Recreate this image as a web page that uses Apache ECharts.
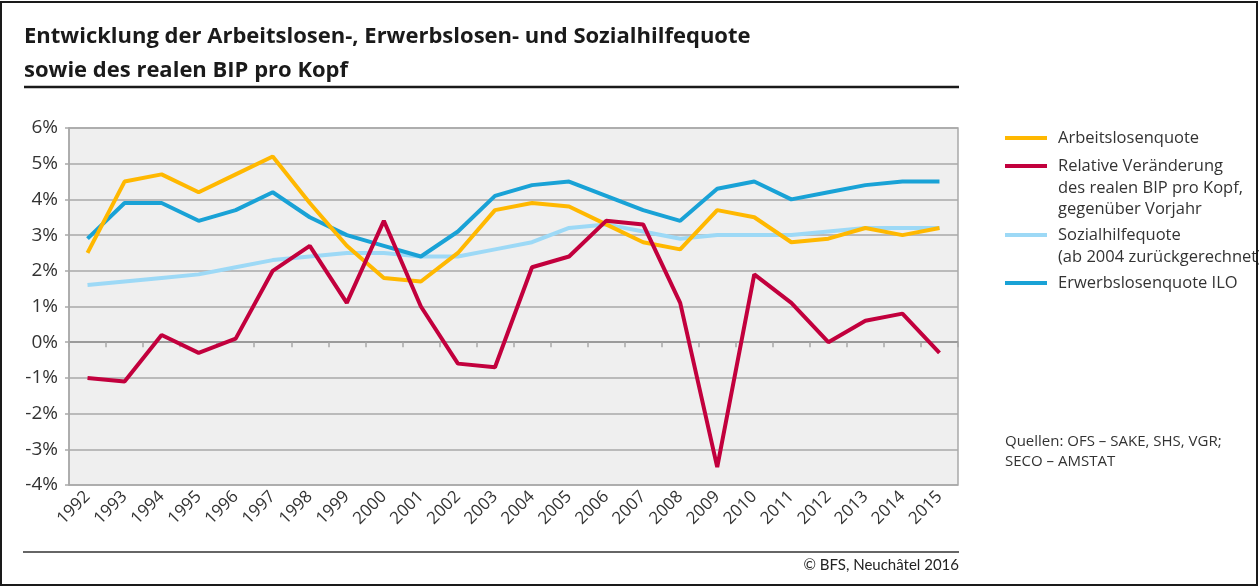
<!DOCTYPE html>
<html>
<head>
<meta charset="utf-8">
<script src="https://cdn.jsdelivr.net/npm/echarts@6/dist/echarts.min.js"></script>
<style>
html,body{margin:0;padding:0;background:#fff;}
#chart{width:1259px;height:587px;}
</style>
</head>
<body>
<div id="chart"></div>
<script>
const years = ['1992','1993','1994','1995','1996','1997','1998','1999','2000','2001','2002','2003','2004','2005','2006','2007','2008','2009','2010','2011','2012','2013','2014','2015'];
const arbeitslosenquote = [2.5,4.5,4.7,4.2,4.7,5.2,3.9,2.7,1.8,1.7,2.5,3.7,3.9,3.8,3.3,2.8,2.6,3.7,3.5,2.8,2.9,3.2,3.0,3.2];
const bipVeraenderung = [-1.0,-1.1,0.2,-0.3,0.1,2.0,2.7,1.1,3.4,1.0,-0.6,-0.7,2.1,2.4,3.4,3.3,1.1,-3.5,1.9,1.1,0.0,0.6,0.8,-0.3];
const sozialhilfequote = [1.6,1.7,1.8,1.9,2.1,2.3,2.4,2.5,2.5,2.4,2.4,2.6,2.8,3.2,3.3,3.1,2.9,3.0,3.0,3.0,3.1,3.2,3.2,3.2];
const erwerbslosenquote = [2.9,3.9,3.9,3.4,3.7,4.2,3.5,3.0,2.7,2.4,3.1,4.1,4.4,4.5,4.1,3.7,3.4,4.3,4.5,4.0,4.2,4.4,4.5,4.5];
const yTicks = ['-4%','-3%','-2%','-1%','0%','1%','2%','3%','4%','5%','6%'];

const titleText = 'Entwicklung der Arbeitslosen-, Erwerbslosen- und Sozialhilfequote\nsowie des realen BIP pro Kopf';
const nameALQ = 'Arbeitslosenquote';
const nameBIP = 'Relative Veränderung\ndes realen BIP pro Kopf,\ngegenüber Vorjahr';
const nameSHQ = 'Sozialhilfequote\n(ab 2004 zurückgerechnet)';
const nameELQ = 'Erwerbslosenquote ILO';
const sourceText = 'Quellen: OFS – SAKE, SHS, VGR;\nSECO – AMSTAT';
const footerText = '© BFS, Neuchâtel 2016';

const cYellow = '#FFB800';
const cRed = '#C2003D';
const cLight = '#9DD9F6';
const cBlue = '#19A2D6';
const FONT = '"Open Sans", Lato, sans-serif';
const FONT2 = 'Lato, "Open Sans", sans-serif';

const chart = echarts.init(document.getElementById('chart'));

function legendFor(name, color, centerY) {
  return {
    data: [name],
    orient: 'vertical',
    left: 1005,
    top: centerY - 10,
    padding: 0,
    itemWidth: 42,
    itemHeight: 4,
    itemGap: 0,
    icon: 'rect',
    selectedMode: false,
    formatter: function (n) { return n.split('\n')[0]; },
    textStyle: { fontFamily: FONT, fontSize: 16.5, color: '#333', lineHeight: 20, padding: [0, 0, 0, 6] }
  };
}

function extraLines(name, startY) {
  const parts = name.split('\n').slice(1);
  return parts.map(function (t, i) {
    return {
      type: 'text', left: 1058, top: startY + i * 21.5 - 10, silent: true,
      style: { text: t, fontFamily: FONT, fontSize: 16.5, fill: '#333', lineHeight: 20 }
    };
  });
}

const splitColors = yTicks.map(function (t) { return t === '0%' ? '#4a4a4a' : '#a9a9a9'; });

const option = {
  animation: false,
  backgroundColor: '#ffffff',
  title: {
    text: titleText,
    left: 24, top: 20, padding: 0,
    textStyle: { fontFamily: FONT, fontWeight: 'bold', fontSize: 22, color: '#1a1a1a', lineHeight: 34 }
  },
  legend: [
    legendFor(nameALQ, cYellow, 138),
    legendFor(nameBIP, cRed, 166),
    legendFor(nameSHQ, cLight, 235),
    legendFor(nameELQ, cBlue, 283)
  ],
  grid: {
    left: 69, right: 301, top: 128, bottom: 102,
    show: true, backgroundColor: '#efefef', borderColor: '#a9a9a9', borderWidth: 1.5,
    outerBoundsMode: 'none'
  },
  xAxis: {
    type: 'category',
    data: years,
    boundaryGap: true,
    axisLine: { show: true, lineStyle: { color: '#a9a9a9', width: 1.5 } },
    axisTick: { show: true, length: 5, alignWithLabel: false, lineStyle: { color: '#a9a9a9', width: 1.5 } },
    axisLabel: { interval: 0, rotate: 45, margin: 9, fontFamily: FONT, fontSize: 17, color: '#333' },
    splitLine: { show: false }
  },
  yAxis: {
    type: 'value',
    min: -4, max: 6, interval: 1,
    axisLine: { show: true, lineStyle: { color: '#a9a9a9', width: 1.5 } },
    axisTick: { show: true, length: 4, lineStyle: { color: '#a9a9a9', width: 1.5 } },
    axisLabel: {
      margin: 11, fontFamily: FONT, fontSize: 19, color: '#333',
      formatter: function (v) { return yTicks[v + 4]; }
    },
    splitLine: { show: true, lineStyle: { color: splitColors, width: 1.5 } }
  },
  series: [
    { name: nameSHQ, type: 'line', data: sozialhilfequote, symbol: 'none', z: 2,
      lineStyle: { color: cLight, width: 4 }, itemStyle: { color: cLight } },
    { name: nameELQ, type: 'line', data: erwerbslosenquote, symbol: 'none', z: 3,
      lineStyle: { color: cBlue, width: 4 }, itemStyle: { color: cBlue } },
    { name: nameALQ, type: 'line', data: arbeitslosenquote, symbol: 'none', z: 4,
      lineStyle: { color: cYellow, width: 4 }, itemStyle: { color: cYellow } },
    { name: nameBIP, type: 'line', data: bipVeraenderung, symbol: 'none', z: 5,
      lineStyle: { color: cRed, width: 4 }, itemStyle: { color: cRed } }
  ],
  graphic: [].concat(
    extraLines(nameBIP, 188),
    extraLines(nameSHQ, 257),
    [
      { type: 'text', left: 1005, top: 432, silent: true,
        style: { text: sourceText, fontFamily: FONT, fontSize: 15, fill: '#333', lineHeight: 20 } },
      { type: 'line', silent: true, shape: { x1: 24, y1: 87, x2: 959, y2: 87 },
        style: { stroke: '#1a1a1a', lineWidth: 2.5 } },
      { type: 'line', silent: true, shape: { x1: 23, y1: 552, x2: 959, y2: 552 },
        style: { stroke: '#333', lineWidth: 1.5 } },
      { type: 'text', right: 300, top: 558, silent: true,
        style: { text: footerText, fontFamily: FONT2, fontSize: 15, fill: '#222' } },
      { type: 'rect', silent: true, z: 100, shape: { x: 1, y: 2, width: 1256, height: 583 },
        style: { fill: 'none', stroke: '#1a1a1a', lineWidth: 2 } }
    ]
  )
};
chart.setOption(option);
</script>
</body>
</html>
